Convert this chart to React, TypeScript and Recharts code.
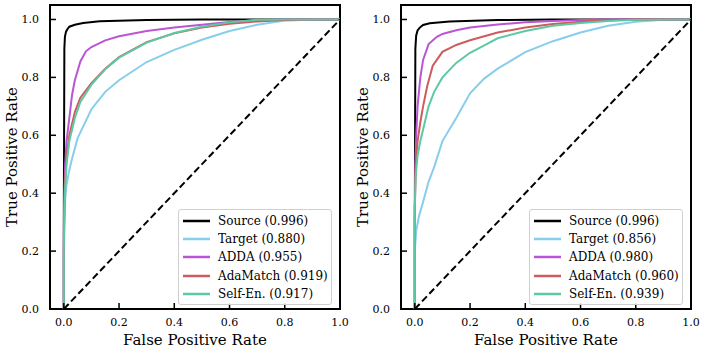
import { LineChart, Line, XAxis, YAxis, ReferenceArea, Legend } from "recharts";

// ── 데이터 (FPR, TPR) ──

const TICKS = [0, 0.2, 0.4, 0.6, 0.8, 1.0];
const SERIES_NAMES = ["Source", "Target", "ADDA", "AdaMatch", "Self-En."];
const SERIES_COLORS = ["#000000", "#87CEEB", "#BA55D3", "#CD5C5C", "#5CC9A3"];
const AUC_LEFT = ["0.996", "0.880", "0.955", "0.919", "0.917"];
const AUC_RIGHT = ["0.996", "0.856", "0.980", "0.960", "0.939"];

const DIAGONAL: [number, number][] = [[0, 0], [1, 1]];

const leftSource: [number, number][] = [
  [0, 0], [0, 0.3], [0.002, 0.9], [0.004, 0.94], [0.008, 0.958], [0.014, 0.968], [0.02, 0.975],
  [0.04, 0.982], [0.07, 0.988], [0.13, 0.994], [0.3, 0.998], [0.5, 1], [1, 1],
];
const leftTarget: [number, number][] = [
  [0, 0], [0, 0.15], [0.002, 0.3], [0.005, 0.38], [0.01, 0.43], [0.02, 0.48], [0.03, 0.52],
  [0.05, 0.59], [0.08, 0.65], [0.1, 0.69], [0.15, 0.75], [0.2, 0.79], [0.3, 0.853], [0.4, 0.895],
  [0.5, 0.93], [0.6, 0.96], [0.7, 0.982], [0.8, 0.996], [0.9, 1], [1, 1],
];
const leftAdda: [number, number][] = [
  [0, 0], [0, 0.25], [0.002, 0.4], [0.005, 0.5], [0.01, 0.58], [0.02, 0.66], [0.03, 0.74],
  [0.04, 0.79], [0.06, 0.855], [0.08, 0.89], [0.1, 0.905], [0.15, 0.928], [0.2, 0.942],
  [0.3, 0.96], [0.4, 0.972], [0.5, 0.982], [0.6, 0.991], [0.7, 0.997], [0.8, 1], [1, 1],
];
const leftAdaMatch: [number, number][] = [
  [0, 0], [0, 0.2], [0.002, 0.35], [0.005, 0.45], [0.01, 0.52], [0.02, 0.6], [0.04, 0.68],
  [0.06, 0.73], [0.1, 0.78], [0.15, 0.83], [0.2, 0.87], [0.3, 0.922], [0.4, 0.952],
  [0.5, 0.972], [0.6, 0.985], [0.7, 0.993], [0.8, 0.998], [0.9, 1], [1, 1],
];
const leftSelfEn: [number, number][] = [
  [0, 0], [0, 0.2], [0.002, 0.33], [0.005, 0.42], [0.01, 0.5], [0.02, 0.58], [0.04, 0.66],
  [0.06, 0.715], [0.1, 0.775], [0.15, 0.828], [0.2, 0.868], [0.3, 0.92], [0.4, 0.953],
  [0.5, 0.975], [0.6, 0.99], [0.7, 0.999], [0.8, 1], [1, 1],
];

const rightSource: [number, number][] = [
  [0, 0], [0, 0.3], [0.002, 0.9], [0.005, 0.945], [0.01, 0.962], [0.018, 0.972], [0.03, 0.981],
  [0.054, 0.987], [0.126, 0.993], [0.3, 0.998], [0.5, 1], [1, 1],
];
const rightTarget: [number, number][] = [
  [0, 0], [0, 0.2], [0.005, 0.27], [0.015, 0.32], [0.03, 0.37], [0.05, 0.44], [0.07, 0.49],
  [0.1, 0.58], [0.15, 0.66], [0.2, 0.745], [0.25, 0.795], [0.3, 0.83], [0.4, 0.887],
  [0.5, 0.925], [0.6, 0.955], [0.7, 0.978], [0.8, 0.992], [0.9, 0.999], [1, 1],
];
const rightAdda: [number, number][] = [
  [0, 0], [0, 0.3], [0.002, 0.5], [0.005, 0.6], [0.01, 0.7], [0.02, 0.8], [0.03, 0.86],
  [0.05, 0.915], [0.08, 0.94], [0.1, 0.95], [0.15, 0.963], [0.2, 0.972], [0.3, 0.983],
  [0.4, 0.99], [0.5, 0.995], [0.6, 0.998], [0.7, 1], [1, 1],
];
const rightAdaMatch: [number, number][] = [
  [0, 0], [0, 0.35], [0.003, 0.5], [0.01, 0.58], [0.02, 0.645], [0.03, 0.7], [0.045, 0.77],
  [0.065, 0.84], [0.1, 0.888], [0.15, 0.912], [0.2, 0.928], [0.3, 0.955], [0.4, 0.972],
  [0.5, 0.984], [0.6, 0.992], [0.7, 0.997], [0.8, 1], [1, 1],
];
const rightSelfEn: [number, number][] = [
  [0, 0], [0, 0.35], [0.003, 0.46], [0.01, 0.53], [0.02, 0.58], [0.03, 0.62], [0.05, 0.7],
  [0.07, 0.75], [0.1, 0.8], [0.15, 0.85], [0.2, 0.885], [0.25, 0.91], [0.3, 0.935],
  [0.4, 0.96], [0.5, 0.978], [0.6, 0.988], [0.7, 0.995], [0.8, 0.999], [1, 1],
];

const LEFT_CURVES = [leftSource, leftTarget, leftAdda, leftAdaMatch, leftSelfEn];
const RIGHT_CURVES = [rightSource, rightTarget, rightAdda, rightAdaMatch, rightSelfEn];

// ── 스타일 ──

const FONT = "'DejaVu Serif', serif";
const toPoints = (pts: [number, number][]) => pts.map(([x, y]) => ({ x, y }));

function LegendBox({ aucs }: { aucs: string[] }) {
  return (
    <div
      style={{
        display: "inline-block",
        border: "1px solid #d0d0d0",
        borderRadius: 3,
        background: "rgba(255,255,255,0.85)",
        padding: "2px 3px 1px 4px",
        fontFamily: FONT,
        fontSize: 12,
        color: "#000",
      }}
    >
      {SERIES_NAMES.map((name, i) => (
        <div key={name} style={{ display: "flex", alignItems: "center", height: 18.2, whiteSpace: "nowrap" }}>
          <svg width={27} height={4} style={{ display: "block" }}>
            <line x1={0} y1={2} x2={27} y2={2} stroke={SERIES_COLORS[i]} strokeWidth={2.5} />
          </svg>
          <span style={{ marginLeft: 8 }}>{`${name} (${aucs[i]})`}</span>
        </div>
      ))}
    </div>
  );
}

function RocPanel({
  curves,
  aucs,
  yAxisWidth,
  marginRight,
  yLabelOffset,
  legendLeft,
}: {
  curves: [number, number][][];
  aucs: string[];
  yAxisWidth: number;
  marginRight: number;
  yLabelOffset: number;
  legendLeft: number;
}) {
  return (
    <LineChart width={353} height={353} margin={{ top: 5, right: marginRight, bottom: 0, left: 0 }}>
      <XAxis
        type="number"
        dataKey="x"
        domain={[-0.05, 1]}
        ticks={TICKS}
        allowDataOverflow
        height={44}
        axisLine={false}
        tickSize={-6}
        tickMargin={15}
        tickLine={{ stroke: "#000", strokeWidth: 1.5 }}
        tickFormatter={(v: number) => v.toFixed(1)}
        tick={{ fill: "#000", fontSize: 11, fontFamily: FONT }}
        label={{ value: "False Positive Rate", position: "insideBottom", offset: 8, fill: "#000", fontSize: 15, fontFamily: FONT }}
      />
      <YAxis
        type="number"
        dataKey="y"
        domain={[0, 1.05]}
        ticks={TICKS}
        allowDataOverflow
        width={yAxisWidth}
        axisLine={false}
        tickSize={-6}
        tickMargin={17}
        tickLine={{ stroke: "#000", strokeWidth: 1.5 }}
        tickFormatter={(v: number) => v.toFixed(1)}
        tick={{ fill: "#000", fontSize: 11, fontFamily: FONT }}
        label={{
          value: "True Positive Rate",
          angle: -90,
          position: "insideLeft",
          offset: yLabelOffset,
          fill: "#000",
          fontSize: 15,
          fontFamily: FONT,
          style: { textAnchor: "middle" },
        }}
      />
      {curves.map((c, i) => (
        <Line
          key={SERIES_NAMES[i]}
          data={toPoints(c)}
          dataKey="y"
          name={SERIES_NAMES[i]}
          stroke={SERIES_COLORS[i]}
          strokeWidth={2}
          dot={false}
          activeDot={false}
          type="linear"
          isAnimationActive={false}
        />
      ))}
      <Line
        data={toPoints(DIAGONAL)}
        dataKey="y"
        name="chance"
        stroke="#000"
        strokeWidth={2}
        strokeDasharray="7 3.5"
        dot={false}
        activeDot={false}
        legendType="none"
        isAnimationActive={false}
      />
      <ReferenceArea x1={-0.05} x2={1} y1={0} y2={1.05} fill="none" stroke="#000" strokeWidth={2} />
      <Legend
        layout="vertical"
        align="center"
        verticalAlign="middle"
        content={() => <LegendBox aucs={aucs} />}
        wrapperStyle={{ left: legendLeft, top: 209, width: "auto", right: "auto", bottom: "auto" }}
      />
    </LineChart>
  );
}

export default function App() {
  return (
    <div style={{ position: "absolute", left: 0, top: 0, width: 706, height: 353, background: "#fff" }}>
      <div style={{ position: "absolute", left: 0, top: 0 }}>
        <RocPanel curves={LEFT_CURVES} aucs={AUC_LEFT} yAxisWidth={50} marginRight={13} yLabelOffset={12} legendLeft={178} />
      </div>
      <div style={{ position: "absolute", left: 353, top: 0 }}>
        <RocPanel curves={RIGHT_CURVES} aucs={AUC_RIGHT} yAxisWidth={48} marginRight={15} yLabelOffset={10} legendLeft={176} />
      </div>
    </div>
  );
}
